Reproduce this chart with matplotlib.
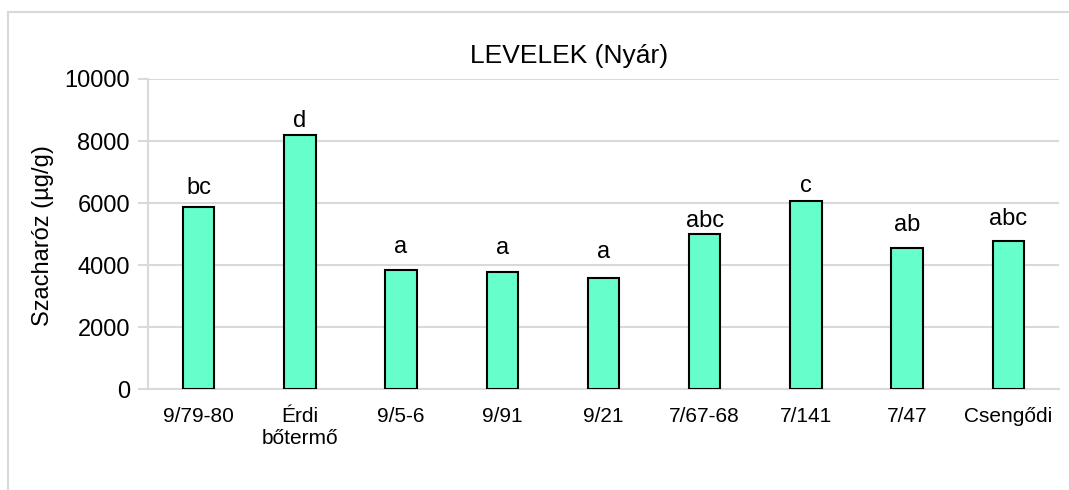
import matplotlib
matplotlib.use('Agg')
import matplotlib.pyplot as plt
from matplotlib.lines import Line2D
import numpy as np

cultivars = ["9/79-80", "Érdi\nbőtermő", "9/5-6", "9/91", "9/21",
             "7/67-68", "7/141", "7/47", "Csengődi"]
sucrose = [5880, 8190, 3860, 3790, 3580, 5010, 6070, 4550, 4780]
letters = ["bc", "d", "a", "a", "a", "abc", "c", "ab", "abc"]
yticks = [0, 2000, 4000, 6000, 8000, 10000]

# gap between bar top and its letter, in pixels (labels were hand placed)
label_gap = [12.7, 8.3, 16.7, 17.3, 20.6, 7.3, 9.3, 17.3, 16.0]

plt.rcParams['font.family'] = ['Liberation Sans', 'DejaVu Sans']

W, H = 1069, 490
fig = plt.figure(figsize=(W / 100, H / 100), dpi=100)
ax = fig.add_axes([148 / W, 1 - 389.3 / H, (1059 - 148) / W, (389.3 - 79) / H])

x = np.arange(len(cultivars))
bars = ax.bar(x, sucrose, width=0.31, color='#66FFCC', edgecolor='black',
              linewidth=1.5, zorder=3)

for bar, lab, gap in zip(bars, letters, label_gap):
    ax.annotate(lab, (bar.get_x() + bar.get_width() / 2, bar.get_height()),
                xytext=(0, gap * 0.72), textcoords='offset points',
                ha='center', va='baseline', fontsize=17)

ax.set_xlim(-0.5, len(cultivars) - 0.5)
ax.set_ylim(0, 10000)
ax.set_yticks(yticks)
ax.set_yticklabels([str(v) for v in yticks], fontsize=17)
ax.set_xticks(x)
ax.set_xticklabels(cultivars, fontsize=15, linespacing=1.2, va='top')

ax.grid(axis='y', color='#d9d9d9', linewidth=1.5, zorder=0)
for s in ['top', 'right']:
    ax.spines[s].set_visible(False)
for s in ['left', 'bottom']:
    ax.spines[s].set_color('#d9d9d9')
    ax.spines[s].set_linewidth(1.5)
ax.tick_params(axis='y', length=7, color='#d9d9d9', width=1.5, pad=6)
ax.tick_params(axis='x', length=0, pad=13)

fig.text(569 / W, 1 - 62.7 / H, "LEVELEK (Nyár)", ha='center', va='baseline',
         fontsize=19)
fig.text(43 / W, 1 - 236 / H, "Szacharóz (µg/g)", rotation=90, ha='center',
         va='center', fontsize=17)

# outer chart frame (left and top edges visible)
fig.add_artist(Line2D([8 / W, 8 / W], [0, 1 - 12 / H], transform=fig.transFigure,
                      color='#d9d9d9', linewidth=1.5))
fig.add_artist(Line2D([8 / W, 1], [1 - 12 / H, 1 - 12 / H], transform=fig.transFigure,
                      color='#d9d9d9', linewidth=1.5))

fig.savefig('out.png', dpi=100)
plt.close(fig)
